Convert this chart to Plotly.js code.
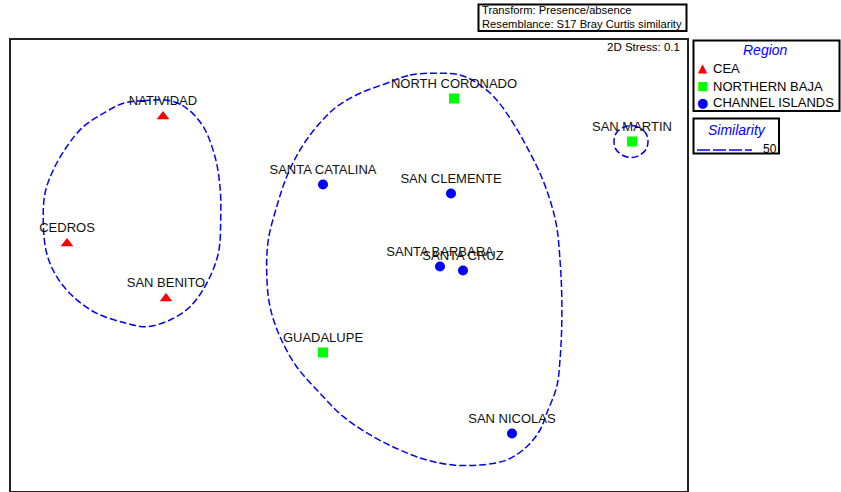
<!DOCTYPE html>
<html>
<head>
<meta charset="utf-8">
<script src="https://cdn.plot.ly/plotly-3.0.1.min.js"></script>
<style>html,body{margin:0;padding:0;background:#fff;}#chart{width:841px;height:492px;}</style>
</head>
<body>
<div id="chart"></div>
<script>
// ---- Data (nMDS coordinates, arbitrary units) ----
const groupNames   = ['CEA', 'NORTHERN BAJA', 'CHANNEL ISLANDS'];
const groupColors  = ['#ff0000', '#00ff00', '#0000ff'];
const groupSymbols = ['triangle-up', 'square', 'circle'];
const groupGlyphs  = ['\u25B2', '\u25A0', '\u25CF'];

const ceaNames = ['NATIVIDAD', 'CEDROS', 'SAN BENITO'];
const ceaX = [-1.86, -2.82, -1.83];
const ceaY = [1.49, 0.22, -0.33];

const bajaNames = ['NORTH CORONADO', 'SAN MARTIN', 'GUADALUPE'];
const bajaX = [1.05, 2.83, -0.26];
const bajaY = [1.67, 1.24, -0.87];

const chanNames = ['SANTA CATALINA', 'SAN CLEMENTE', 'SANTA BARBARA', 'SANTA CRUZ', 'SAN NICOLAS'];
const chanX = [-0.26, 1.02, 0.91, 1.14, 1.63];
const chanY = [0.81, 0.72, -0.01, -0.05, -1.68];

// 50% similarity contours (traced)
const contourLabel = '50';
const contour1X = [-2.257,-2.057,-1.79,-1.623,-1.457,-1.34,-1.29,-1.283,-1.307,-1.423,-1.59,-1.79,-2.023,-2.223,-2.523,-2.757,-2.923,-3.023,-3.057,-3.04,-2.957,-2.823,-2.657,-2.457,-2.257];
const contour1Y = [1.622,1.648,1.648,1.572,1.388,1.088,0.788,0.455,0.122,-0.178,-0.412,-0.545,-0.612,-0.578,-0.478,-0.312,-0.112,0.122,0.422,0.722,0.955,1.188,1.388,1.522,1.622];
const contour2X = [0.377,0.61,0.877,1.11,1.31,1.477,1.643,1.777,1.91,2.01,2.077,2.11,2.127,2.127,2.11,2.077,1.977,1.91,1.777,1.577,1.31,1.043,0.777,0.51,0.243,-0.057,-0.29,-0.523,-0.69,-0.79,-0.823,-0.807,-0.723,-0.623,-0.49,-0.323,-0.123,0.11,0.377];
const contour2Y = [1.822,1.905,1.922,1.905,1.805,1.655,1.422,1.188,0.922,0.655,0.388,0.055,-0.278,-0.612,-0.945,-1.212,-1.478,-1.645,-1.812,-1.945,-1.995,-1.995,-1.945,-1.845,-1.712,-1.512,-1.278,-1.012,-0.712,-0.412,-0.078,0.255,0.588,0.888,1.155,1.388,1.588,1.722,1.822];
const contour3X = [2.99,2.97,2.90,2.82,2.74,2.67,2.65,2.67,2.74,2.82,2.90,2.97,2.99];
const contour3Y = [1.24,1.32,1.38,1.40,1.38,1.32,1.24,1.16,1.10,1.08,1.10,1.16,1.24];

const stressText = '2D Stress: 0.1';
const infoLines = ['Transform: Presence/absence', 'Resemblance: S17 Bray Curtis similarity'];
const legendTitle = 'Region';
const simTitle = 'Similarity';

// ---- Build ----
const FONT = 'Liberation Sans, Arial, sans-serif';
const groups = [[ceaNames, ceaX, ceaY], [bajaNames, bajaX, bajaY], [chanNames, chanX, chanY]];

const contourTrace = {
  type: 'scatter', mode: 'lines', name: contourLabel, showlegend: false,
  x: contour1X.concat([null], contour2X, [null], contour3X),
  y: contour1Y.concat([null], contour2Y, [null], contour3Y),
  line: {color: '#0000ff', width: 1.5, dash: '7px,3px', shape: 'spline', smoothing: 1},
  connectgaps: false, hoverinfo: 'skip'
};

const traces = [contourTrace];
groups.forEach((g, i) => {
  traces.push({
    type: 'scatter', mode: 'markers+text', name: groupNames[i], showlegend: false,
    x: g[1], y: g[2], text: g[0], textposition: 'top center',
    textfont: {family: FONT, size: 13, color: '#111'},
    marker: {symbol: groupSymbols[i], color: groupColors[i], size: i === 0 ? 11 : 10, line: {width: 0}},
    cliponaxis: false
  });
});

// helpers: pixel -> paper (plot area 11..687 x 40..491)
const PX = x => (x - 11) / 676;
const PY = y => (491 - y) / 451;

const annotations = [];
annotations.push({xref:'paper', yref:'paper', x: PX(682), y: PY(47), text: stressText, showarrow:false,
  xanchor:'right', yanchor:'middle', font:{family:FONT, size:11.5, color:'#000'}});
infoLines.forEach((t, i) => annotations.push({xref:'paper', yref:'paper', x: PX(479.5), y: PY(i === 0 ? 10.5 : 24), text: t,
  showarrow:false, xanchor:'left', yanchor:'middle', font:{family:FONT, size:11.2, color:'#000'}}));
annotations.push({xref:'paper', yref:'paper', x: PX(765), y: PY(50), text: '<i>' + legendTitle + '</i>', showarrow:false,
  xanchor:'center', yanchor:'middle', font:{family:FONT, size:14, color:'#0000ff'}});
const legY = [68, 86, 103];
groupNames.forEach((n, i) => {
  annotations.push({xref:'paper', yref:'paper', x: PX(702.7), y: PY(legY[i]), text: groupGlyphs[i], showarrow:false,
    xanchor:'center', yanchor:'middle', font:{family:'DejaVu Sans, sans-serif', size: i === 2 ? 13 : 12, color: groupColors[i]}});
  annotations.push({xref:'paper', yref:'paper', x: PX(710.5), y: PY(legY[i]), text: n, showarrow:false,
    xanchor:'left', yanchor:'middle', font:{family:FONT, size:13, color:'#000'}});
});
annotations.push({xref:'paper', yref:'paper', x: PX(736.7), y: PY(130), text: '<i>' + simTitle + '</i>', showarrow:false,
  xanchor:'center', yanchor:'middle', font:{family:FONT, size:14, color:'#0000ff'}});
annotations.push({xref:'paper', yref:'paper', x: PX(770), y: PY(149), text: contourLabel, showarrow:false,
  xanchor:'center', yanchor:'middle', font:{family:FONT, size:12, color:'#000'}});

const shapes = [
  {type:'rect', xref:'paper', yref:'paper', x0: PX(478.5), x1: PX(686.5), y0: PY(31), y1: PY(4.5), line:{color:'#000', width:2}},
  {type:'rect', xref:'paper', yref:'paper', x0: PX(693.5), x1: PX(839.5), y0: PY(111), y1: PY(40.5), line:{color:'#000', width:2}},
  {type:'rect', xref:'paper', yref:'paper', x0: PX(693.5), x1: PX(779), y0: PY(153.5), y1: PY(118.5), line:{color:'#000', width:2}},
  {type:'line', xref:'paper', yref:'paper', x0: PX(697), x1: PX(752), y0: PY(150), y1: PY(150), line:{color:'#0000ff', width:1.5, dash:'13px,3px'}}
];

const axisCommon = {showgrid:false, zeroline:false, showticklabels:false, ticks:'', showline:true, mirror:true,
  linecolor:'#222', linewidth:2, fixedrange:true};

const layout = {
  width: 841, height: 492,
  margin: {l: 11, r: 154, t: 40, b: 1, pad: 0},
  paper_bgcolor: '#fff', plot_bgcolor: '#fff',
  showlegend: false,
  xaxis: Object.assign({range: [-3.38, 3.38]}, axisCommon),
  yaxis: Object.assign({range: [-2.255, 2.255]}, axisCommon),
  annotations: annotations,
  shapes: shapes,
  font: {family: FONT}
};

Plotly.newPlot('chart', traces, layout, {staticPlot: true, displayModeBar: false});
</script>
</body>
</html>
